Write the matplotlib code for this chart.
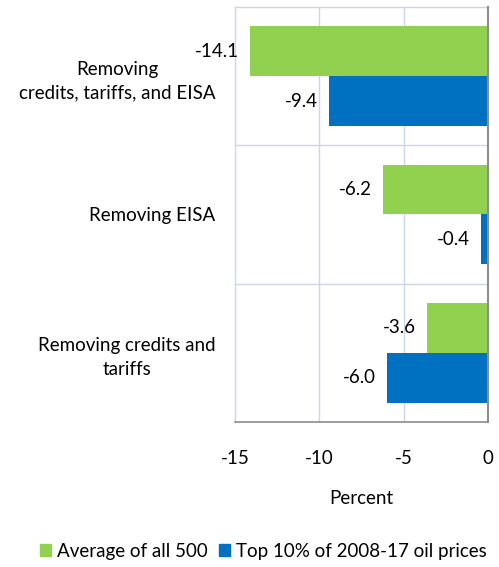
import matplotlib
matplotlib.use("Agg")
import matplotlib.pyplot as plt
import numpy as np
from matplotlib.patches import Patch

plt.rcParams['font.family'] = ['Lato', 'DejaVu Sans']

categories = ["Removing\ncredits, tariffs, and EISA", "Removing EISA",
              "Removing credits and\ntariffs"]
series_names = ["Average of all 500", "Top 10% of 2008-17 oil prices"]
avg_all = [-14.1, -6.2, -3.6]
top10 = [-9.4, -0.4, -6.0]
xticks = [-15, -10, -5, 0]

green = "#92D050"
blue = "#0070C0"
grid_c = "#C9D6EC"
fs = 13.5

fig = plt.figure(figsize=(4.99, 5.67), dpi=100)
ax = fig.add_axes([0.471, 0.2557, 0.507, 0.732])

y = np.arange(len(categories))
h = 0.36
ax.barh(y - h / 2, avg_all, height=h, color=green, zorder=3, label=series_names[0])
ax.barh(y + h / 2, top10, height=h, color=blue, zorder=3, label=series_names[1])

for yi, v in zip(y - h / 2, avg_all):
    ax.annotate(f"{v:.1f}", (v, yi), xytext=(-8, 0), textcoords="offset points",
                ha="right", va="center", fontsize=fs, color="#000000")
for yi, v in zip(y + h / 2, top10):
    ax.annotate(f"{v:.1f}", (v, yi), xytext=(-8, 0), textcoords="offset points",
                ha="right", va="center", fontsize=fs, color="#000000")

ax.set_xlim(-15, 0)
ax.set_ylim(len(categories) - 0.5, -0.5)
ax.set_xticks(xticks)
ax.set_xticklabels([str(t) for t in xticks], fontsize=fs)
ax.set_yticks(y)
ax.set_yticklabels(categories, fontsize=fs, multialignment="center", linespacing=1.5)
ax.tick_params(axis="both", length=0)
ax.tick_params(axis="y", pad=14)
ax.tick_params(axis="x", pad=20)

# category separators and vertical gridlines
for b in [0.5, 1.5]:
    ax.axhline(b, color=grid_c, lw=1, zorder=1)
for t in [-10, -5]:
    ax.axvline(t, color=grid_c, lw=1, zorder=1)

for side in ["left", "top"]:
    ax.spines[side].set_color(grid_c)
    ax.spines[side].set_linewidth(1)
ax.spines["bottom"].set_color("#8C8C8C")
ax.spines["bottom"].set_linewidth(1.2)
ax.spines["right"].set_color("#8C8C8C")
ax.spines["right"].set_linewidth(1.5)
ax.spines["right"].set_zorder(4)

ax.set_xlabel("Percent", fontsize=fs, labelpad=17)

handles = [Patch(color=green), Patch(color=blue)]
fig.legend(handles, series_names, loc="lower center", bbox_to_anchor=(0.528, -0.017),
           ncol=2, frameon=False, fontsize=fs, handlelength=0.6, handleheight=0.6,
           handletextpad=0.3, columnspacing=0.6)

fig.savefig("out.png", dpi=100)
